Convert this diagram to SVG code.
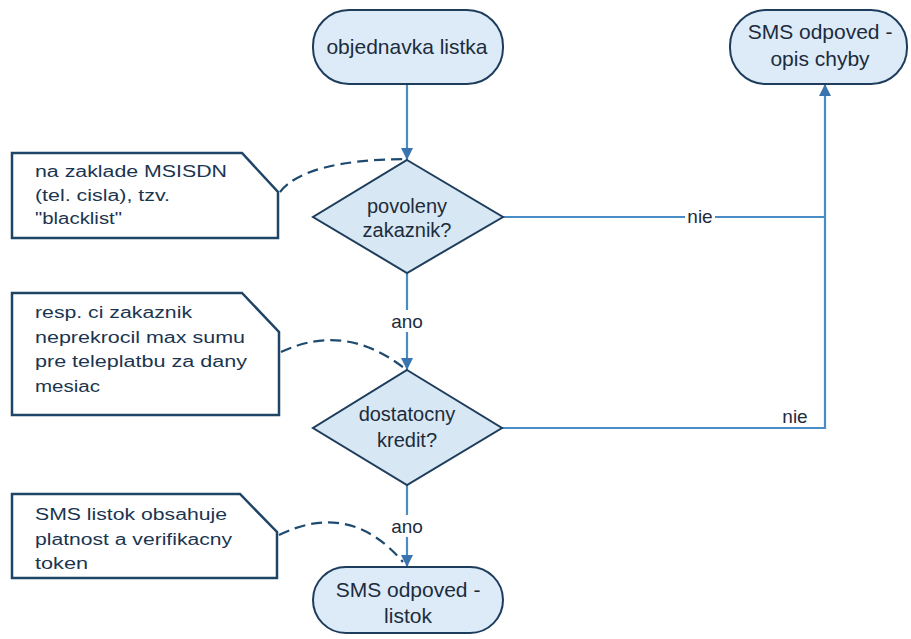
<svg xmlns="http://www.w3.org/2000/svg" width="911" height="639" viewBox="0 0 911 639">
<defs>
<style>
.term{fill:#dcebf7;stroke:#1e3d5c;stroke-width:2}
.dia{fill:#d8e7f4;stroke:#1e3d5c;stroke-width:2}
.note{fill:#ffffff;stroke:#1e4466;stroke-width:2.5}
.t{font-family:"Liberation Sans",Arial,sans-serif;font-size:21px;fill:#1c2c3c;text-anchor:middle}
.d{font-family:"Liberation Sans",Arial,sans-serif;font-size:20px;fill:#1c2c3c;text-anchor:middle}
.n{font-family:"Liberation Sans",Arial,sans-serif;font-size:16px;fill:#1b3550}
.lbl{font-family:"Liberation Sans",Arial,sans-serif;font-size:19px;fill:#1c2c3c;text-anchor:middle}
.flow{fill:none;stroke:#4a8cc6;stroke-width:2.2}
.dash{fill:none;stroke:#1d4a70;stroke-width:2.2;stroke-dasharray:11 6}
</style>
<marker id="ah" viewBox="0 0 10 10" refX="10" refY="5" markerWidth="5.5" markerHeight="5.5" orient="auto" markerUnits="strokeWidth">
<path d="M0,0 L10,5 L0,10 z" fill="#3a74ae"/>
</marker>
</defs>
<rect width="911" height="639" fill="#ffffff"/>

<g id="connectors">
<path class="flow" d="M407,84 L407,160" marker-end="url(#ah)"/>
<path class="flow" d="M407,272 L407,370" marker-end="url(#ah)"/>
<path class="flow" d="M407,484 L407,567" marker-end="url(#ah)"/>
<path class="flow" d="M503,217 L825,217 L825,84" marker-end="url(#ah)"/>
<path class="flow" d="M502,428 L825,428 L825,217"/>
<path class="dash" d="M280,192 Q305,160 405,159"/>
<path class="dash" d="M281,352 Q345,322 404,368"/>
<path class="dash" d="M279,535 Q350,500 403,562"/>
<g id="label-nie-1"><rect x="685" y="205" width="30" height="22" fill="#ffffff"/><text class="lbl" x="700" y="223">nie</text></g>
<g id="label-nie-2"><rect x="780" y="405" width="30" height="22" fill="#ffffff"/><text class="lbl" x="795" y="423">nie</text></g>
<g id="label-ano-1"><rect x="388" y="310" width="38" height="22" fill="#ffffff"/><text class="lbl" x="407" y="328">ano</text></g>
<g id="label-ano-2"><rect x="388" y="515" width="38" height="22" fill="#ffffff"/><text class="lbl" x="407" y="533">ano</text></g>
</g>

<g id="start">
<rect class="term" x="313" y="10" width="190" height="74" rx="36" ry="36"/>
<text class="t" x="407" y="54">objednavka listka</text>
</g>

<g id="error">
<rect class="term" x="730" y="10" width="177" height="74" rx="36" ry="36"/>
<text class="t" x="820" y="39">SMS odpoved -</text>
<text class="t" x="820" y="66">opis chyby</text>
</g>

<g id="decision-povoleny">
<path class="dia" d="M407,160 L503,217 L407,273 L313,217 z"/>
<text class="d" x="407" y="213">povoleny</text>
<text class="d" x="407" y="237">zakaznik?</text>
</g>

<g id="decision-kredit">
<path class="dia" d="M407,370 L502,428 L407,485 L313,428 z"/>
<text class="d" x="407" y="421">dostatocny</text>
<text class="d" x="407" y="447">kredit?</text>
</g>

<g id="end">
<rect class="term" x="313" y="567" width="190" height="66" rx="33" ry="33"/>
<text class="t" x="408" y="597">SMS odpoved -</text>
<text class="t" x="408" y="623">listok</text>
</g>

<g id="note-blacklist">
<path class="note" d="M12,153 L242,153 L278,192 L278,238 L12,238 z"/>
<text class="n" x="35" y="177" textLength="192" lengthAdjust="spacingAndGlyphs">na zaklade MSISDN</text>
<text class="n" x="35" y="201" textLength="135" lengthAdjust="spacingAndGlyphs">(tel. cisla), tzv.</text>
<text class="n" x="35" y="224" textLength="87" lengthAdjust="spacingAndGlyphs">"blacklist"</text>
</g>

<g id="note-kredit">
<path class="note" d="M12,293 L242,293 L279,332 L279,415 L12,415 z"/>
<text class="n" x="35" y="318" textLength="157" lengthAdjust="spacingAndGlyphs">resp. ci zakaznik</text>
<text class="n" x="35" y="343" textLength="210" lengthAdjust="spacingAndGlyphs">neprekrocil max sumu</text>
<text class="n" x="35" y="367" textLength="212" lengthAdjust="spacingAndGlyphs">pre teleplatbu za dany</text>
<text class="n" x="35" y="392" textLength="65" lengthAdjust="spacingAndGlyphs">mesiac</text>
</g>

<g id="note-listok">
<path class="note" d="M12,494 L240,494 L277,532 L277,578 L12,578 z"/>
<text class="n" x="35" y="520" textLength="192" lengthAdjust="spacingAndGlyphs">SMS listok obsahuje</text>
<text class="n" x="35" y="545" textLength="197" lengthAdjust="spacingAndGlyphs">platnost a verifikacny</text>
<text class="n" x="35" y="569" textLength="53" lengthAdjust="spacingAndGlyphs">token</text>
</g>
</svg>
